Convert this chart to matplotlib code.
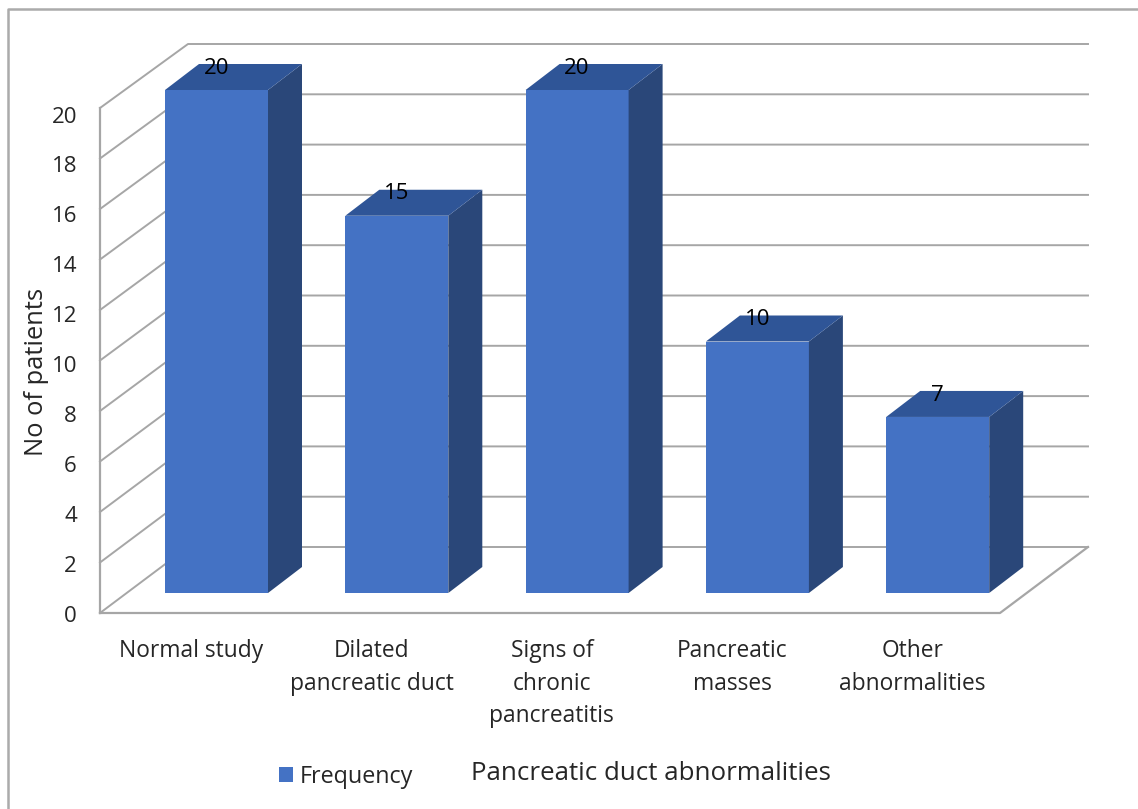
import matplotlib
matplotlib.use("Agg")
import matplotlib.pyplot as plt
from matplotlib.patches import Polygon, Rectangle

categories = ["Normal study", "Dilated\npancreatic duct", "Signs of\nchronic\npancreatitis", "Pancreatic\nmasses", "Other\nabnormalities"]
frequency = [20, 15, 20, 10, 7]
y_ticks = [0, 2, 4, 6, 8, 10, 12, 14, 16, 18, 20]

plt.rcParams['font.family'] = ['Open Sans', 'DejaVu Sans']

FRONT = "#4472C4"
SIDE = "#2A4779"
TOP = "#2F5597"
GRID = "#A6A6A6"
TEXT = "#262626"

# one unit on x is a category step, one unit on y is a patient
STEP_PX = 180.3
UNIT_PX = 25.15
BAR_W = 103 / STEP_PX
DX = 34 / STEP_PX
DY = 26 / UNIT_PX
W, H = 1138, 809

def px_x(p):
    return (p - 216.5) / STEP_PX

def px_y(p):
    return (593 - p) / UNIT_PX

def drawBar(ax, i, v):
    l = i - BAR_W / 2
    r = i + BAR_W / 2
    ax.add_patch(Rectangle((l, 0), BAR_W, v, fc=FRONT, ec="none", zorder=3))
    ax.add_patch(Polygon([(r, 0), (r + DX, DY), (r + DX, v + DY), (r, v)], fc=SIDE, ec="none", zorder=3))
    ax.add_patch(Polygon([(l, v), (r, v), (r + DX, v + DY), (l + DX, v + DY)], fc=TOP, ec="none", zorder=3))

def drawWalls(ax):
    x0, x1 = px_x(100), px_x(188)
    x_end = px_x(1088)
    front0, back0 = px_y(613), px_y(547)
    front_u = 25.25 / UNIT_PX
    for t in y_ticks:
        yf = front0 + t * front_u
        yb = back0 + t
        ax.plot([x0, x1, x_end], [yf, yb, yb], color=GRID, lw=1.4, zorder=1)
    # floor outline and left edge
    ax.plot([x0, px_x(1000), x_end], [front0, front0, back0], color=GRID, lw=1.6, zorder=1)
    ax.plot([x0, x0], [front0, front0 + 20 * front_u], color=GRID, lw=1.6, zorder=1)

fig = plt.figure(figsize=(W / 100, H / 100), dpi=100)
ax = fig.add_axes([0, 0, 1, 1])
ax.set_xlim(px_x(0), px_x(W))
ax.set_ylim(px_y(H), px_y(0))
ax.axis("off")

# chart frame
ax.plot([px_x(8), px_x(8), px_x(1138)], [px_y(809), px_y(9), px_y(9)], color="#ABABAB", lw=1.8)

drawWalls(ax)

for i, v in enumerate(frequency):
    drawBar(ax, i, v)
    ax.text(i + 0.0, v + DY * 0.84, str(v), ha="center", va="center", fontsize=16, color="black", zorder=4)

for t in y_ticks:
    ax.text(px_x(77), px_y(616) + t * 24.95 / UNIT_PX, str(t), ha="right", va="center", fontsize=16, color=TEXT)

for i, c in enumerate(categories):
    ax.text(i - 0.14, px_y(639), c, ha="center", va="top", fontsize=16.4, color=TEXT, linespacing=1.48)

ax.text(px_x(37), px_y(372), "No of patients", rotation=90, ha="center", va="center", fontsize=18.4, color=TEXT)

# legend entry and axis title
ax.add_patch(Rectangle((px_x(279), px_y(782)), 14 / STEP_PX, 15 / UNIT_PX, fc=FRONT, ec="none"))
ax.text(px_x(300), px_y(777), "Frequency", ha="left", va="center", fontsize=16.8, color=TEXT)
ax.text(px_x(471), px_y(773), "Pancreatic duct abnormalities", ha="left", va="center", fontsize=18.6, color=TEXT)

fig.savefig("out.png", dpi=100)
